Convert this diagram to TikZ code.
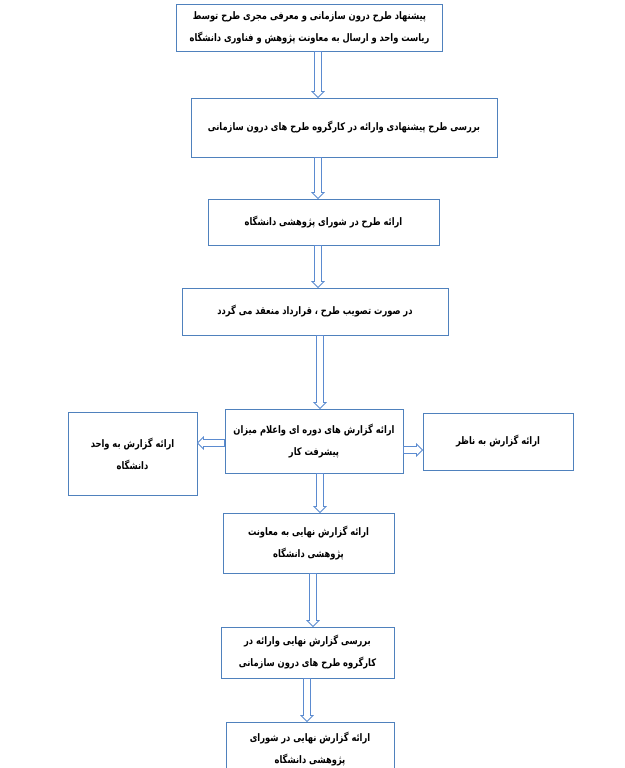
\documentclass[tikz,border=0pt]{standalone}
\usepackage{fontspec}
\usetikzlibrary{calc}
\TeXXeTstate=1
\newfontfamily\fa[Script=Arabic,FakeStretch=0.8]{DejaVu Sans}
\newcommand{\rtl}[1]{\beginR #1\endR}
\definecolor{boxblue}{HTML}{4F81BD}
\definecolor{arrowblue}{HTML}{5B8BD0}
\tikzset{
  % rutor
  box/.style={draw=boxblue,line width=0.75pt,fill=white,align=center,
              inner sep=2pt,font=\fa\bfseries\fontsize{7.8}{16.5}\selectfont},
  % pilar
  flow/.style={draw=arrowblue,fill=white,line width=0.6pt,line join=miter,
    to path={($(\tikztostart)!2.6pt!90:(\tikztotarget)$)
      -- ($($(\tikztotarget)!4.5pt!(\tikztostart)$)!2.6pt!-90:(\tikztostart)$)
      -- ($($(\tikztotarget)!4.5pt!(\tikztostart)$)!4.5pt!-90:(\tikztostart)$)
      -- (\tikztotarget)
      -- ($($(\tikztotarget)!4.5pt!(\tikztostart)$)!4.5pt!90:(\tikztostart)$)
      -- ($($(\tikztotarget)!4.5pt!(\tikztostart)$)!2.6pt!90:(\tikztostart)$)
      -- ($(\tikztostart)!2.6pt!-90:(\tikztotarget)$) -- cycle}},
}

\begin{document}
\begin{tikzpicture}[x=0.75pt,y=-0.75pt]
\useasboundingbox (0,0) rectangle (625,768);
  \node[box,minimum width=200pt,minimum height=35.25pt] (b1) at (309.5,27.5)
    {\rtl{پیشنهاد طرح درون سازمانی و معرفی مجری طرح توسط}\\
     \rtl{ریاست واحد و ارسال به معاونت پژوهش و فناوری دانشگاه}};
  \node[box,minimum width=229.5pt,minimum height=44.25pt] (b2) at (344,127.5)
    {\rtl{بررسی طرح پیشنهادی وارائه در کارگروه طرح های درون سازمانی}};
  \node[box,minimum width=173.25pt,minimum height=34.5pt] (b3) at (323.5,222)
    {\rtl{ارائه طرح در شورای پژوهشی دانشگاه}};
  \node[box,minimum width=199.5pt,minimum height=35.25pt] (b4) at (315,311.5)
    {\rtl{در صورت تصویب طرح ، قرارداد منعقد می گردد}};
  \node[box,minimum width=133.5pt,minimum height=48pt] (b5) at (314,441)
    {\rtl{ارائه گزارش های دوره ای واعلام میزان}\\ \rtl{پیشرفت کار}};
  \node[box,minimum width=96.75pt,minimum height=62.25pt] (lbox) at (132.5,453.5)
    {\rtl{ارائه گزارش به واحد}\\ \rtl{دانشگاه}};
  \node[box,minimum width=112.5pt,minimum height=42.75pt] (rbox) at (498,441.5)
    {\rtl{ارائه گزارش به ناظر}};
  \node[box,minimum width=128.25pt,minimum height=45pt] (b6) at (308.5,543)
    {\rtl{ارائه گزارش نهایی به معاونت}\\ \rtl{پژوهشی دانشگاه}};
  \node[box,minimum width=129.75pt,minimum height=38.25pt] (b7) at (307.5,652.5)
    {\rtl{بررسی گزارش نهایی وارائه در}\\ \rtl{کارگروه طرح های درون سازمانی}};
  \node[box,minimum width=126pt,minimum height=41.25pt] (b8) at (310,749.5)
    {\rtl{ارائه گزارش نهایی در  شورای}\\ \rtl{پژوهشی دانشگاه}};
  % stamlinjer
  \coordinate (s1) at (318,0);
  \coordinate (s2) at (320,0);
  \coordinate (s3) at (313,0);
  \coordinate (s4) at (307,0);
  \coordinate (ly) at (0,443);
  \coordinate (ry) at (0,450);
  \draw[flow] (b1.south -| s1) to (b2.north -| s1);
  \draw[flow] (b2.south -| s1) to (b3.north -| s1);
  \draw[flow] (b3.south -| s1) to (b4.north -| s1);
  \draw[flow] (b4.south -| s2) to (b5.north -| s2);
  \draw[flow] (b5.west |- ly) to (lbox.east |- ly);
  \draw[flow] (b5.east |- ry) to (rbox.west |- ry);
  \draw[flow] (b5.south -| s2) to (b6.north -| s2);
  \draw[flow] (b6.south -| s3) to (b7.north -| s3);
  \draw[flow] (b7.south -| s4) to (b8.north -| s4);
\end{tikzpicture}
\end{document}
